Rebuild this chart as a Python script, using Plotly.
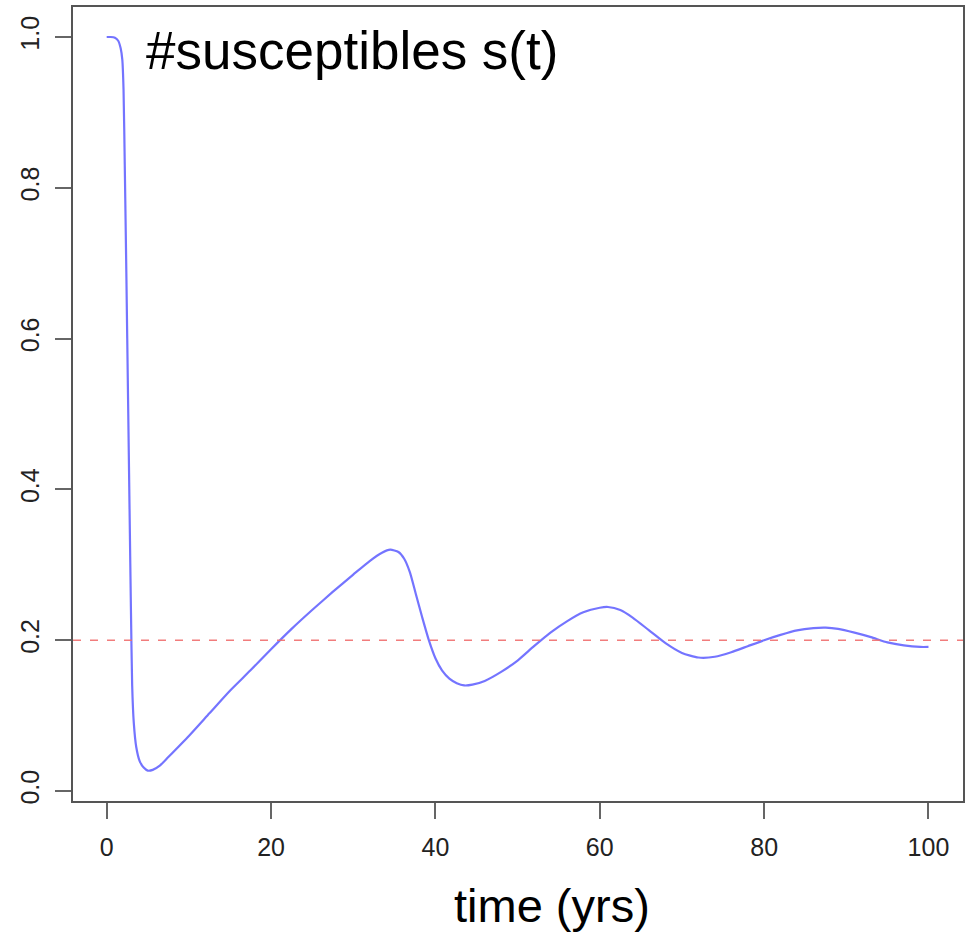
import plotly.graph_objects as go

# ---- data ----
time_yrs = [0, 0.5, 1.0, 1.4, 1.7, 1.9, 2.05, 2.2, 2.4, 2.6, 2.8, 2.95, 3.1, 3.3,
            3.6, 4.0, 4.5, 5.0, 5.6, 6.5, 7.5, 10, 12.5, 15, 17.5, 20, 22.5, 25,
            27.5, 30, 32, 33.5, 34.5, 35.5, 36.2, 36.9, 37.6, 38.4, 39.2, 40.0, 40.8,
            41.7, 42.6, 43.5, 44.5, 46, 48, 50, 52, 54, 56, 58, 60, 61, 62.5, 64, 66,
            68, 70, 72, 74, 76, 78, 80, 82, 84, 86, 87.5, 89, 91, 93, 95, 97, 99, 100]
susceptibles = [1.0, 1.0, 0.999, 0.995, 0.985, 0.97, 0.93, 0.83, 0.68, 0.52, 0.36, 0.24,
                0.14, 0.09, 0.058, 0.040, 0.031, 0.027, 0.028, 0.034, 0.045, 0.073,
                0.103, 0.133, 0.160, 0.188, 0.215, 0.240, 0.264, 0.287, 0.305, 0.316,
                0.320, 0.317, 0.308, 0.290, 0.262, 0.230, 0.200, 0.176, 0.160,
                0.149, 0.143, 0.140, 0.141, 0.146, 0.158, 0.173, 0.192, 0.210, 0.225,
                0.237, 0.243, 0.244, 0.240, 0.230, 0.213, 0.196, 0.183, 0.177, 0.178,
                0.184, 0.192, 0.200, 0.207, 0.213, 0.216, 0.2166, 0.215, 0.210, 0.204,
                0.197, 0.193, 0.191, 0.191]
equilibrium = 0.2
x_ticks = [0, 20, 40, 60, 80, 100]
y_ticks = [0.0, 0.2, 0.4, 0.6, 0.8, 1.0]
y_tick_labels = ["0.0", "0.2", "0.4", "0.6", "0.8", "1.0"]
annotation_text = "#susceptibles s(t)"
x_title = "time (yrs)"

FONT = "Liberation Sans, Arial, Helvetica, sans-serif"

fig = go.Figure()
fig.add_trace(go.Scatter(
    x=time_yrs, y=susceptibles, mode="lines",
    line=dict(color="rgba(70,70,255,0.75)", width=2.2, shape="spline", smoothing=0.6),
    showlegend=False, hoverinfo="skip",
))
fig.add_hline(y=equilibrium, line=dict(color="rgba(240,110,110,0.9)", width=1.6, dash="8px,9px"))

axis_common = dict(
    showgrid=False, zeroline=False, automargin=False,
    showline=True, mirror=True, linecolor="#555", linewidth=2,
    ticks="outside", ticklen=16, tickwidth=2, tickcolor="#666",
    tickfont=dict(family=FONT, size=25, color="#222"),
)
fig.update_xaxes(range=[-4.1, 104.2], tickvals=x_ticks, ticktext=[str(v) for v in x_ticks],
                 ticklabelstandoff=7, **axis_common)
fig.update_yaxes(range=[-0.0133, 1.0398], tickvals=y_ticks, ticktext=y_tick_labels,
                 tickangle=-90, ticklabelstandoff=6, **axis_common)

fig.add_annotation(text=annotation_text, xref="paper", yref="paper",
                   x=(144 - 73) / 890, y=(801 - 50) / 794, xanchor="left", yanchor="middle",
                   showarrow=False, font=dict(family=FONT, size=53, color="#000"))
fig.add_annotation(text=x_title, xref="paper", yref="paper",
                   x=(552 - 73) / 890, y=(801 - 905) / 794, xanchor="center", yanchor="middle",
                   showarrow=False, font=dict(family=FONT, size=47, color="#000"))

fig.update_layout(
    width=969, height=932,
    margin=dict(l=73, r=6, t=7, b=131),
    paper_bgcolor="white", plot_bgcolor="white",
)
fig.write_html("out.html", config={"displayModeBar": False},
               post_script="document.body.style.margin='0';document.body.style.overflow='hidden';")
